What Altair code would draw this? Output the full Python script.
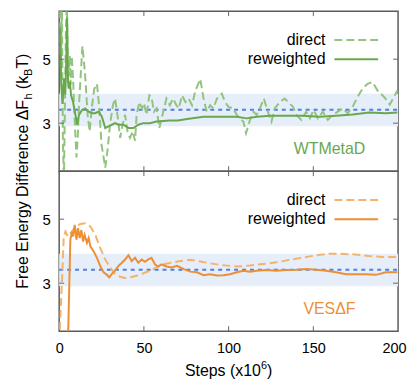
import altair as alt
import pandas as pd

# ---------------- data ----------------
x_ticks = [0, 50, 100, 150, 200]
y_ticks = [3, 5]
inner_x_ticks = [50, 100, 150]

ref_value = 3.42
band_lo = 2.9
band_hi = 3.92

wt_direct_steps = [0.3, 1.0, 1.6, 2.2, 2.8, 3.4, 4.0, 4.5, 5.2, 6.2, 6.8, 7.4, 8.2, 9.0, 10.2, 11.0, 11.7,
                   13.7, 15.2, 16.8, 18.0, 19.2, 20.7, 22.3, 23.5, 25.0, 27.2, 28.5, 30.0, 31.7, 33.0, 34.4,
                   36.0, 37.4, 38.9, 40.3, 41.8, 43.4, 44.8, 45.7, 47.3, 48.9, 50.0, 51.6, 53.2, 54.5, 55.9,
                   57.5, 59.1, 61.0, 63.3, 65.3, 67.2, 69.2, 70.6, 72.5, 74.5, 76.4, 78.4, 80.4, 83.3, 85.2,
                   87.1, 89.1, 91.0, 93.1, 96.0, 97.9, 99.9, 102.8, 104.8, 106.7, 108.7, 110.3, 112.3, 114.6,
                   116.5, 118.5, 120.8, 122.8, 125.3, 127.2, 130.2, 133.1, 135.1, 138.0, 140.0, 142.9, 145.8,
                   148.0, 150.1, 152.7, 155.6, 158.5, 161.5, 164.4, 167.3, 170.3, 173.2, 176.1, 179.1, 182.0,
                   184.9, 187.9, 191.8, 195.1, 199.6]
wt_direct_vals = [6.9, 4.6, 6.8, 2.4, 1.2, 3.6, 6.0, 6.8, 4.3, 5.1, 4.2, 5.1, 4.4, 3.26, 1.93, 2.6, 3.56,
                  5.41, 4.59, 3.26, 2.74, 3.46, 4.07, 4.23, 3.56, 2.33, 1.61, 2.13, 2.95, 3.56, 3.77, 3.26,
                  2.54, 2.95, 3.26, 2.74, 2.54, 2.74, 2.45, 3.26, 3.66, 3.46, 3.62, 3.26, 3.87, 3.82, 3.36,
                  3.46, 2.85, 3.26, 3.77, 3.56, 3.77, 3.56, 3.46, 3.87, 3.66, 3.77, 3.56, 4.02, 4.38, 3.77,
                  3.36, 3.56, 3.46, 3.77, 3.92, 3.66, 3.51, 3.46, 3.26, 3.15, 3.05, 2.69, 3.05, 3.36,
                  3.26, 3.46, 3.77, 3.41, 3.05, 3.46, 3.66, 3.77, 3.66, 3.51, 3.26, 3.10, 3.36,
                  3.15, 3.41, 3.15, 3.36, 3.10, 3.26, 3.36, 3.46, 3.31, 3.51, 3.82, 4.08, 4.23,
                  4.28, 4.02, 3.82, 3.58, 4.02]

wt_rew_steps = [0.5, 1.2, 2.0, 2.8, 3.6, 4.2, 4.7, 5.2, 5.6, 6.3, 7.0, 8.2, 9.6, 10.5, 11.7, 13.5, 15.4,
                17.4, 19.4, 21.3, 23.3, 25.2, 27.2, 29.1, 31.1, 33.0, 35.0, 37.9, 40.9, 43.8, 46.7, 49.6,
                53.5, 57.5, 61.4, 65.3, 70.0, 75.5, 85.2, 95.0, 104.8, 110.7, 116.5, 124.4, 134.1, 143.8,
                153.6, 163.4, 173.2, 183.0, 192.8, 199.6]
wt_rew_vals = [6.0, 4.2, 3.6, 4.4, 3.9, 5.0, 6.3, 4.3, 4.08, 4.3, 3.87, 3.66, 3.26, 2.95, 3.26, 3.41, 3.46,
               3.36, 3.31, 3.31, 3.36, 3.20, 2.85, 2.90, 2.95, 3.0, 2.95, 2.95, 2.85, 2.85, 2.95, 3.0,
               3.0, 3.05, 3.07, 3.08, 3.08, 3.13, 3.20, 3.20, 3.20, 3.15, 3.20, 3.23, 3.23, 3.23,
               3.20, 3.23, 3.27, 3.33, 3.31, 3.33]

ves_direct_steps = [0.0, 0.4, 1.8, 2.7, 3.7, 5.1, 6.7, 9.6, 12.5, 15.4, 18.4, 21.3, 24.2, 27.2, 30.1, 33.0,
                    36.0, 38.9, 41.8, 45.7, 49.7, 53.6, 57.5, 61.4, 65.3, 71.6, 77.4, 83.3, 89.1, 95.0,
                    100.9, 105.7, 112.6, 120.4, 128.2, 136.1, 143.9, 151.7, 159.5, 165.4, 173.2, 183.0,
                    190.8, 199.6]
ves_direct_vals = [0.8, 1.6, 3.24, 4.46, 4.61, 4.46, 4.56, 4.77, 4.85, 4.87, 4.77, 4.51, 4.10, 3.74, 3.49, 3.29,
                   3.20, 3.16, 3.18, 3.23, 3.31, 3.39, 3.49, 3.59, 3.63, 3.69, 3.73, 3.68, 3.62, 3.57,
                   3.54, 3.52, 3.55, 3.60, 3.65, 3.73, 3.80, 3.87, 3.92, 3.92, 3.90, 3.85,
                   3.82, 3.82]

ves_rew_steps = [4.6, 5.3, 6.1, 6.6, 7.6, 8.2, 9.2, 10.2, 11.1, 12.1, 13.1, 14.1, 15.0, 16.4, 17.4, 18.4,
                 20.3, 22.3, 24.2, 26.2, 28.2, 29.5, 31.1, 33.0, 35.0, 37.0, 38.9, 40.9, 42.8, 44.8, 46.7,
                 48.7, 50.6, 52.6, 54.5, 56.5, 58.4, 60.4, 63.3, 66.3, 69.6, 73.5, 77.4, 81.3, 85.2, 89.1,
                 93.1, 97.0, 100.9, 104.8, 108.7, 112.6, 116.5, 122.4, 128.2, 134.1, 140.0, 145.9, 151.7,
                 157.6, 163.4, 169.3, 175.2, 181.0, 186.9, 192.8, 199.6]
ves_rew_vals = [0.0, 1.4, 3.24, 4.36, 4.61, 4.46, 4.82, 4.36, 4.72, 4.41, 4.66, 4.30, 4.51, 4.26, 4.41, 4.15,
                4.0, 3.79, 3.54, 3.34, 3.26, 3.18, 3.29, 3.39, 3.54, 3.64, 3.74, 3.87, 3.69, 3.79, 3.64,
                3.74, 3.67, 3.74, 3.79, 3.59, 3.52, 3.59, 3.52, 3.49, 3.54, 3.44, 3.36, 3.34, 3.25, 3.28,
                3.24, 3.25, 3.28, 3.34, 3.39, 3.36, 3.39, 3.41, 3.39, 3.41, 3.42, 3.44, 3.42,
                3.39, 3.34, 3.28, 3.28, 3.28, 3.26, 3.34, 3.34]

legend_labels = ["direct", "reweighted"]
panel_labels = ["WTMetaD", "VES\u0394F"]

# ---------------- style ----------------
FONT = "Liberation Sans"
W, H = 341, 161
GREEN_DIR, GREEN_REW = "#93c47d", "#6aa84f"
ORANGE_DIR, ORANGE_REW = "#f6b26b", "#ec8f35"
BAND = "#e6eefa"
REF = "#4f80dc"
TICK = "#666666"
NBSP = "\u00a0"

# Arial / Liberation Sans advance widths (per 1000 em) for text composition
ADV = {'F': 611, 'r': 333, 'e': 556, ' ': 278, NBSP: 278, 'E': 667, 'n': 556, 'g': 556, 'y': 500,
       'D': 722, 'i': 222, 'f': 278, 'c': 500, '\u0394': 668, 'h': 556, '(': 333, 'k': 500, 'B': 667,
       'T': 611, ')': 333, 'S': 667, 't': 278, 'p': 556, 's': 500, 'x': 500, '1': 556, '0': 556, '6': 556}


def text_width(s, size):
    return sum(ADV.get(ch, 556) for ch in s) * size / 1000.0


one = pd.DataFrame({"a": [0]})


def panel(dx, dy, rx, ry, c_dir, c_rew, label, label_color, bottom):
    xs = alt.Scale(domain=[0, 200], nice=False, zero=False)
    ys = alt.Scale(domain=[1.5, 6.5], nice=False, zero=False)
    if bottom:
        x_axis = alt.Axis(values=x_ticks, ticks=False, tickSize=0, domain=False, grid=False, title=None,
                          labelFont=FONT, labelFontSize=14.5, labelColor="black", labelPadding=10,
                          labelFlush=False,
                          labelAlign={"condition": {"test": "datum.value == 200", "value": "right"},
                                      "value": "center"},
                          labelOffset={"condition": {"test": "datum.value == 200", "value": 8},
                                       "value": 0})
    else:
        x_axis = None
    y_axis = alt.Axis(values=y_ticks, ticks=False, tickSize=0, domain=False, grid=False, title=None,
                      labelFont=FONT, labelFontSize=15, labelColor="black", labelPadding=9,
                      labelFlush=False)

    def X(f):
        return alt.X(f, type="quantitative", scale=xs, axis=x_axis)

    def Y(f):
        return alt.Y(f, type="quantitative", scale=ys, axis=y_axis)

    band_df = pd.DataFrame({"x0": [0], "x1": [200], "lo": [band_lo], "hi": [band_hi]})
    ref_df = pd.DataFrame({"x0": [0], "x1": [200], "v": [ref_value]})
    layers = []
    layers.append(alt.Chart(band_df).mark_rect(color=BAND).encode(x=X("x0"), x2="x1", y=Y("lo"), y2="hi"))
    layers.append(alt.Chart(ref_df).mark_rule(color=REF, strokeDash=[4, 4], strokeWidth=2)
                  .encode(x=X("x0"), x2="x1", y=Y("v")))
    layers.append(alt.Chart(pd.DataFrame({"s": dx, "v": dy}))
                  .mark_line(color=c_dir, strokeDash=[8, 4], strokeWidth=2, clip=True)
                  .encode(x=X("s"), y=Y("v")))
    layers.append(alt.Chart(pd.DataFrame({"s": rx, "v": ry}))
                  .mark_line(color=c_rew, strokeWidth=2, clip=True)
                  .encode(x=X("s"), y=Y("v")))
    # inward ticks on all four sides
    xt = pd.DataFrame({"s": inner_x_ticks})
    layers.append(alt.Chart(xt).mark_rule(color=TICK).encode(x=X("s"), y=alt.value(0), y2=alt.value(5)))
    layers.append(alt.Chart(xt).mark_rule(color=TICK).encode(x=X("s"), y=alt.value(H - 5), y2=alt.value(H)))
    yt = pd.DataFrame({"v": y_ticks})
    layers.append(alt.Chart(yt).mark_rule(color=TICK).encode(y=Y("v"), x=alt.value(0), x2=alt.value(5)))
    layers.append(alt.Chart(yt).mark_rule(color=TICK).encode(y=Y("v"), x=alt.value(W - 5), x2=alt.value(W)))
    # legend
    for i, (lab, col, dash) in enumerate([(legend_labels[0], c_dir, [8, 4]), (legend_labels[1], c_rew, None)]):
        ypos = 29 + i * 19.5
        layers.append(alt.Chart(one).mark_text(align="right", baseline="middle", font=FONT, fontSize=16,
                                               color="black")
                      .encode(text=alt.value(lab), x=alt.value(268), y=alt.value(ypos)))
        kw = dict(color=col, strokeWidth=2)
        if dash:
            kw["strokeDash"] = dash
        layers.append(alt.Chart(one).mark_rule(**kw)
                      .encode(x=alt.value(277), x2=alt.value(321), y=alt.value(ypos)))
    # method label
    layers.append(alt.Chart(one).mark_text(align="center", baseline="middle", font=FONT, fontSize=16,
                                           color=label_color)
                  .encode(text=alt.value(label), x=alt.value(272), y=alt.value(139)))
    return layers


top_layers = panel(wt_direct_steps, wt_direct_vals, wt_rew_steps, wt_rew_vals,
                   GREEN_DIR, GREEN_REW, panel_labels[0], GREEN_REW, False)
bot_layers = panel(ves_direct_steps, ves_direct_vals, ves_rew_steps, ves_rew_vals,
                   ORANGE_DIR, ORANGE_REW, panel_labels[1], ORANGE_REW, True)

# y title with subscripts (rotated), placed in the top panel, centred on the panel junction
# (text, font size, baseline shift, gap before the part in px)
space16 = 278 * 16 / 1000.0
y_parts = [("Free" + NBSP + "Energy" + NBSP + "Difference" + NBSP + "\u0394F", 16, 0, 0), ("h", 11, 4, 0),
           ("(k", 16, 0, space16), ("B", 11, 4, 0), ("T)", 16, 0, 0)]
total = sum(text_width(t, s) + g for t, s, _, g in y_parts)
cursor = H + total / 2
for t, s, sh, g in y_parts:
    cursor -= g
    top_layers.append(alt.Chart(one).mark_text(angle=270, align="left", baseline="alphabetic", font=FONT,
                                               fontSize=s, color="black")
                      .encode(text=alt.value(t), x=alt.value(-31.5 + sh), y=alt.value(cursor)))
    cursor -= text_width(t, s)

# x title with superscript
x_parts = [("Steps" + NBSP + "(x10", 16, 0), ("6", 11, -7), (")", 16, 0)]
total = sum(text_width(t, s) for t, s, _ in x_parts)
cursor = W / 2 - total / 2
for t, s, sh in x_parts:
    bot_layers.append(alt.Chart(one).mark_text(align="left", baseline="alphabetic", font=FONT,
                                               fontSize=s, color="black")
                      .encode(text=alt.value(t), x=alt.value(cursor), y=alt.value(H + 45 + sh)))
    cursor += text_width(t, s)

top = alt.layer(*top_layers).properties(width=W, height=H)
bottom = alt.layer(*bot_layers).properties(width=W, height=H)

chart = (alt.vconcat(top, bottom, spacing=0, bounds="flush")
         .properties(padding={"left": 5.5, "top": 0, "right": 0, "bottom": 5})
         .configure_view(stroke="#5b5b5b", strokeWidth=1.5))

chart.save("out.html", embed_options={"renderer": "svg", "actions": False})
